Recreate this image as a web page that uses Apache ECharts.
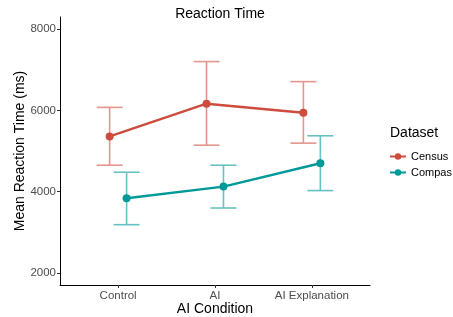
<!DOCTYPE html>
<html>
<head>
<meta charset="utf-8">
<script src="https://cdn.jsdelivr.net/npm/echarts@6/dist/echarts.min.js"></script>
<style>
  html, body { margin: 0; padding: 0; background: #fff; }
  #main { width: 453px; height: 317px; }
</style>
</head>
<body>
<div id="main"></div>
<script>
// data
var conditions = ['Control', 'AI', 'AI Explanation'];
var yTicks = [2000, 4000, 6000, 8000];

var censusMean = [5360, 6165, 5942];
var censusLow = [4650, 5143, 5193];
var censusHigh = [6074, 7202, 6708];

var compasMean = [3835, 4123, 4699];
var compasLow = [3185, 3596, 4025];
var compasHigh = [4477, 4650, 5375];

var dodge = 0.0875; // position_dodge offset (in category units)
var capHalf = 13;   // error bar cap half width, px

var censusColor = '#CC4C3D';
var censusBar = '#E3968D';
var compasColor = '#00999A';
var compasBar = '#66C2C2';

var font = 'Liberation Sans, Arial, sans-serif';

function pts(mean, shift) {
  return mean.map(function (v, i) { return [i + 1 + shift, v]; });
}
function bars(low, high, shift) {
  return low.map(function (v, i) { return [i + 1 + shift, v, high[i]]; });
}

function errorItem(color) {
  return function (params, api) {
    var top = api.coord([api.value(0), api.value(2)]);
    var bot = api.coord([api.value(0), api.value(1)]);
    var st = { stroke: color, lineWidth: 1.6 };
    return {
      type: 'group',
      children: [
        { type: 'line', shape: { x1: top[0], y1: top[1], x2: bot[0], y2: bot[1] }, style: st },
        { type: 'line', shape: { x1: top[0] - capHalf, y1: top[1], x2: top[0] + capHalf, y2: top[1] }, style: st },
        { type: 'line', shape: { x1: bot[0] - capHalf, y1: bot[1], x2: bot[0] + capHalf, y2: bot[1] }, style: st }
      ]
    };
  };
}

var chart = echarts.init(document.getElementById('main'), null, { renderer: 'canvas' });

var option = {
  animation: false,
  textStyle: { fontFamily: font },
  title: [
    {
      text: 'Reaction Time',
      left: 215,
      top: 2,
      textAlign: 'center',
      textStyle: { fontSize: 14, fontWeight: 'normal', color: '#000', fontFamily: font }
    },
    {
      text: 'Dataset',
      left: 385,
      top: 121,
      textStyle: { fontSize: 14, fontWeight: 'normal', color: '#000', fontFamily: font }
    }
  ],
  legend: {
    orient: 'vertical',
    left: 384,
    top: 146,
    itemWidth: 16,
    itemHeight: 8,
    itemGap: 5,
    textStyle: { fontSize: 11, color: '#000', fontFamily: font },
    data: ['Census', 'Compas']
  },
  grid: { left: 60, right: 83, top: 17, bottom: 32, outerBoundsMode: 'none', containLabel: false },
  xAxis: {
    type: 'value',
    min: 0.4,
    max: 3.6,
    name: 'AI Condition',
    nameLocation: 'middle',
    nameGap: 17,
    nameMoveOverlap: false,
    nameTextStyle: { fontSize: 14, color: '#000', fontFamily: font },
    splitLine: { show: false },
    axisLine: { lineStyle: { color: '#000', width: 1 } },
    axisTick: { show: true, length: 3, customValues: [1, 2, 3], lineStyle: { color: '#333' } },
    axisLabel: {
      customValues: [1, 2, 3],
      color: '#4D4D4D',
      fontSize: 11.5,
      margin: 5,
      formatter: function (v) { return conditions[Math.round(v) - 1]; }
    }
  },
  yAxis: {
    type: 'value',
    min: 1700,
    max: 8300,
    name: 'Mean Reaction Time (ms)',
    nameLocation: 'middle',
    nameGap: 33,
    nameMoveOverlap: false,
    nameTextStyle: { fontSize: 14, color: '#000', fontFamily: font },
    splitLine: { show: false },
    axisLine: { show: true, lineStyle: { color: '#000', width: 1 } },
    axisTick: { show: true, length: 3, customValues: yTicks, lineStyle: { color: '#333' } },
    axisLabel: {
      customValues: yTicks,
      color: '#4D4D4D',
      fontSize: 11.5,
      margin: 4,
      formatter: function (v) { return String(v); }
    }
  },
  series: [
    {
      name: 'Census error',
      type: 'custom',
      renderItem: errorItem(censusBar),
      data: bars(censusLow, censusHigh, -dodge),
      z: 1
    },
    {
      name: 'Compas error',
      type: 'custom',
      renderItem: errorItem(compasBar),
      data: bars(compasLow, compasHigh, dodge),
      z: 1
    },
    {
      name: 'Census',
      type: 'line',
      data: pts(censusMean, -dodge),
      color: censusColor,
      symbol: 'circle',
      symbolSize: 8,
      lineStyle: { width: 2.4 },
      z: 3
    },
    {
      name: 'Compas',
      type: 'line',
      data: pts(compasMean, dodge),
      color: compasColor,
      symbol: 'circle',
      symbolSize: 8,
      lineStyle: { width: 2.4 },
      z: 3
    }
  ]
};

chart.setOption(option);
</script>
</body>
</html>
